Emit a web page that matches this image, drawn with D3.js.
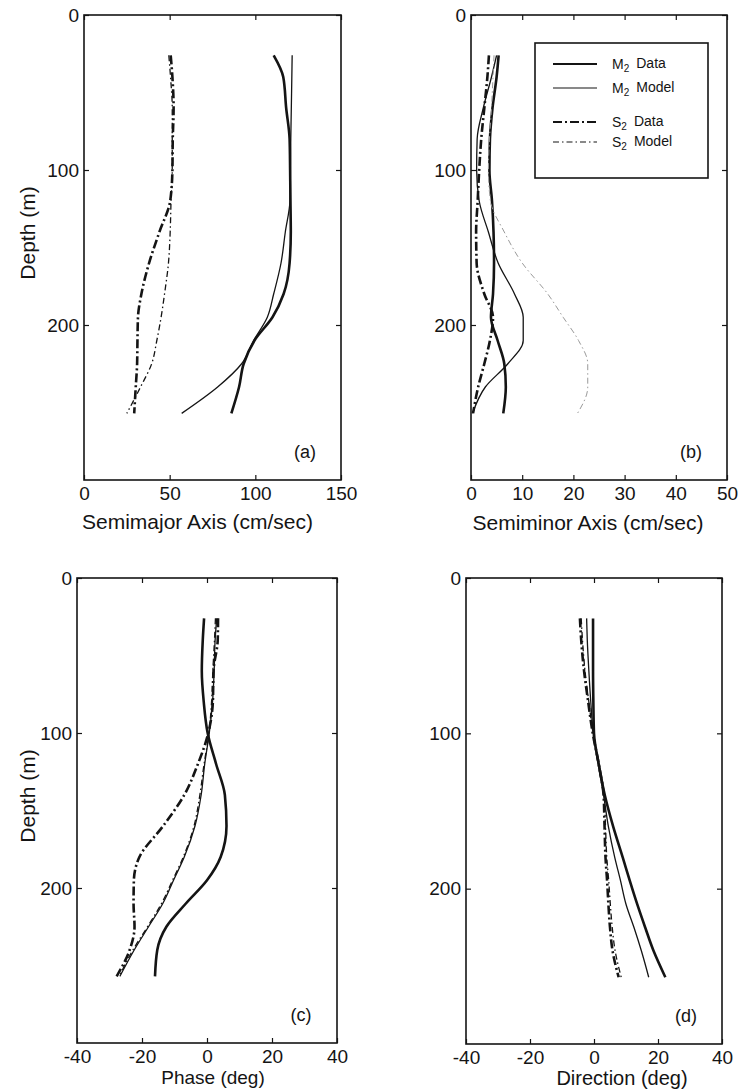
<!DOCTYPE html>
<html>
<head>
<meta charset="utf-8">
<script src="https://cdn.jsdelivr.net/npm/d3@7"></script>
<style>
  body { margin: 0; background: #fff; }
  svg { display: block; font-family: "Liberation Sans", Arial, Helvetica, sans-serif; }
</style>
</head>
<body>
<svg id="chart" width="738" height="1091"></svg>
<script>
var depths = [26, 40, 60, 80, 100, 120, 140, 160, 180, 195, 210, 225, 240, 257];
var depthTicks = [0, 100, 200];

// (a) semimajor axis, cm/sec
var semimajorM2Data  = [110.7, 116.3, 118, 120, 120.3, 120.5, 120.7, 120, 116.5, 110, 99.5, 93.2, 90.5, 86];
var semimajorM2Model = [121.5, 121.3, 121, 120.7, 120.5, 120.2, 117.5, 115, 110.7, 107, 99, 92, 78, 57];
var semimajorS2Data  = [50.6, 51.6, 52.3, 51.8, 51.6, 50.3, 44, 38, 33.5, 31.5, 31.2, 31, 30.2, 29.3];
var semimajorS2Model = [49.5, 50.5, 51.5, 51.5, 51.5, 50.8, 50.3, 49.3, 47, 45, 42.5, 39.5, 33, 25];
var semimajorTicks = [0, 50, 100, 150];

// (b) semiminor axis, cm/sec
var semiminorM2Data  = [5.4, 5.0, 4.2, 3.7, 3.6, 4.1, 4.4, 4.5, 4.3, 3.9, 5.2, 6.5, 6.8, 6.3];
var semiminorM2Model = [5.0, 4.0, 2.4, 1.2, 1.1, 1.6, 3.4, 5.3, 8.5, 10.2, 10.2, 7.2, 2.8, 0.3];
var semiminorS2Data  = [3.5, 3.2, 2.6, 2.0, 1.6, 1.3, 1.0, 1.1, 2.6, 4.3, 3.7, 2.6, 1.4, 0.4];
var semiminorS2Model = [4.5, 4.3, 4.0, 3.6, 3.4, 3.8, 6.5, 10, 15, 18, 21, 22.8, 22.8, 20.8];
var semiminorTicks = [0, 10, 20, 30, 40, 50];

// (c) phase, deg
var phaseM2Data  = [-0.9, -1.3, -1.6, -1.0, 0.2, 2.8, 5.5, 6.0, 4.2, 0, -6.5, -12.5, -15.3, -16];
var phaseM2Model = [3, 2.5, 2.2, 1.7, 0.7, -0.7, -1.8, -3.7, -7, -10.3, -13.6, -18, -22.4, -26.8];
var phaseS2Data  = [3.4, 3.3, 2, 1.8, 0.4, -2.8, -7, -13.5, -20.8, -22.5, -22.6, -22.3, -23.8, -27.8];
var phaseS2Model = [2.6, 2.3, 1.8, 1.4, 0.6, -0.9, -2.2, -4, -7.3, -10.6, -14, -18.3, -22.8, -27];

// (d) direction, deg
var directionM2Data  = [-0.3, -0.3, -0.3, -0.2, 0, 1.5, 3.4, 6, 9, 11.2, 13.5, 16, 18.6, 22.3];
var directionM2Model = [-2.3, -2.1, -1.6, -1.0, -0.2, 1.3, 3.0, 4.5, 6.5, 8.3, 10, 12.5, 14.8, 17.1];
var directionS2Data  = [-4.4, -4.0, -3.1, -1.8, -0.4, 1.5, 3.0, 3.3, 3.6, 4.1, 4.5, 5, 5.8, 7.7];
var directionS2Model = [-4.0, -3.6, -2.8, -1.6, -0.3, 1.6, 3.2, 3.6, 4, 4.6, 5.1, 5.7, 6.6, 8.5];
var angleTicks = [-40, -20, 0, 20, 40];

var seriesNames = ["M2 Data", "M2 Model", "S2 Data", "S2 Model"];

// line look of each series
var styles = {
  "M2 Data":  {w: 2.6, dash: null},
  "M2 Model": {w: 1.3, dash: null},
  "S2 Data":  {w: 2.6, dash: "9,3,2,3"},
  "S2 Model": {w: 1.3, dash: "6,3,1.5,3"}
};

var panels = [
  {tag: "(a)", title: "Semimajor Axis (cm/sec)", domain: [0, 150], ticks: semimajorTicks,
   series: [semimajorM2Data, semimajorM2Model, semimajorS2Data, semimajorS2Model],
   left: 84, right: 341, top: 15, bottom: 480, titleX: -15, titleY: 42, ylabel: true},
  {tag: "(b)", title: "Semiminor Axis (cm/sec)", domain: [0, 50], ticks: semiminorTicks,
   series: [semiminorM2Data, semiminorM2Model, semiminorS2Data, semiminorS2Model],
   left: 471, right: 727, top: 15, bottom: 480, titleX: -11, titleY: 43, legend: true, faint: "S2 Model"},
  {tag: "(c)", title: "Phase (deg)", domain: [-40, 40], ticks: angleTicks,
   series: [phaseM2Data, phaseM2Model, phaseS2Data, phaseS2Model],
   left: 77, right: 337, top: 578, bottom: 1043, titleX: 6, titleY: 34, ylabel: true, titleSize: 19},
  {tag: "(d)", title: "Direction (deg)", domain: [-40, 40], ticks: angleTicks,
   series: [directionM2Data, directionM2Model, directionS2Data, directionS2Model],
   left: 466, right: 722, top: 578, bottom: 1044, titleX: 28, titleY: 34, titleSize: 20}
];

var svg = d3.select("#chart");
svg.append("rect").attr("width", 738).attr("height", 1091).attr("fill", "#fff");

var ink = "#141414";
var plain = function (d) { return String(d); }; // keep the plain hyphen minus

panels.forEach(function (p) {
  var x = d3.scaleLinear().domain(p.domain).range([p.left, p.right]);
  var y = d3.scaleLinear().domain([0, 300]).range([p.top, p.bottom]);
  var g = svg.append("g");

  // frame
  g.append("rect")
    .attr("x", p.left).attr("y", p.top)
    .attr("width", p.right - p.left).attr("height", p.bottom - p.top)
    .attr("fill", "none").attr("stroke", ink).attr("stroke-width", 1.6);

  // axes with inward ticks
  g.append("g").attr("transform", "translate(0," + p.bottom + ")")
    .call(d3.axisBottom(x).tickValues(p.ticks).tickFormat(plain)
      .tickSizeInner(-5).tickSizeOuter(0).tickPadding(7));
  g.append("g").attr("transform", "translate(" + p.left + ",0)")
    .call(d3.axisLeft(y).tickValues(depthTicks).tickFormat(plain)
      .tickSizeInner(-5).tickSizeOuter(0).tickPadding(5));
  g.append("g").attr("transform", "translate(0," + p.top + ")")
    .call(d3.axisTop(x).tickValues(p.ticks).tickSizeInner(-5).tickSizeOuter(0).tickFormat(""));
  g.append("g").attr("transform", "translate(" + p.right + ",0)")
    .call(d3.axisRight(y).tickValues(depthTicks).tickSizeInner(-5).tickSizeOuter(0).tickFormat(""));

  g.selectAll(".domain").remove();
  g.selectAll(".tick line").attr("stroke", ink).attr("stroke-width", 1.2);
  g.selectAll(".tick text").attr("fill", ink).attr("font-size", 19)
    .attr("font-family", "\"Liberation Sans\", Arial, sans-serif");

  // titles
  g.append("text")
    .attr("x", (p.left + p.right) / 2 + p.titleX).attr("y", p.bottom + p.titleY)
    .attr("dy", "0.35em").attr("text-anchor", "middle")
    .attr("font-size", p.titleSize || 21).attr("fill", ink).text(p.title);
  if (p.ylabel) {
    g.append("text")
      .attr("transform", "translate(28," + (p.top + 218) + ") rotate(-90)")
      .attr("dy", "0.35em").attr("text-anchor", "middle")
      .attr("font-size", 21).attr("fill", ink).text("Depth (m)");
  }
  g.append("text")
    .attr("x", p.right - 36).attr("y", p.bottom - 28)
    .attr("dy", "0.35em").attr("text-anchor", "middle")
    .attr("font-size", 18).attr("fill", ink).text(p.tag);

  // profiles
  var line = d3.line()
    .x(function (d) { return x(d[0]); })
    .y(function (d) { return y(d[1]); })
    .curve(d3.curveMonotoneY);

  p.series.forEach(function (vals, i) {
    var name = seriesNames[i];
    var st = styles[name];
    var pts = vals.map(function (v, j) { return [v, depths[j]]; });
    g.append("path")
      .attr("d", line(pts))
      .attr("fill", "none")
      .attr("stroke", p.faint === name ? "#9a9a9a" : ink)
      .attr("stroke-width", p.faint === name ? 1 : st.w)
      .attr("stroke-dasharray", st.dash)
      .attr("stroke-linejoin", "round");
  });

  // legend
  if (p.legend) {
    var lg = g.append("g");
    lg.append("rect")
      .attr("x", 535).attr("y", 43).attr("width", 173).attr("height", 135)
      .attr("fill", "#fff").attr("stroke", ink).attr("stroke-width", 1.6);
    var rows = [64, 88, 122, 142];
    seriesNames.forEach(function (name, i) {
      var st = styles[name];
      lg.append("line")
        .attr("x1", 553).attr("x2", 597).attr("y1", rows[i]).attr("y2", rows[i])
        .attr("stroke", ink).attr("stroke-width", st.w * 0.8)
        .attr("stroke-dasharray", st.dash);
      var parts = name.split(" ");
      var t = lg.append("text").attr("x", 612).attr("y", rows[i]).attr("dy", "0.35em")
        .attr("font-size", 14).attr("fill", ink);
      t.append("tspan").text(parts[0].charAt(0));
      t.append("tspan").attr("font-size", 10).attr("dy", "0.35em").text(parts[0].charAt(1));
      t.append("tspan").attr("dy", "-0.35em").text("\u2002" + parts[1]);
    });
  }
});
</script>
</body>
</html>
